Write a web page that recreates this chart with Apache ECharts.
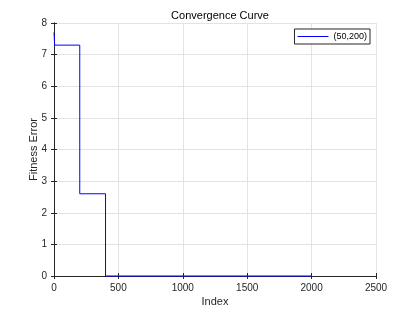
<!DOCTYPE html>
<html><head><meta charset="utf-8">
<script src="https://cdn.jsdelivr.net/npm/echarts@6/dist/echarts.min.js"></script>
<style>html,body{margin:0;padding:0;background:#fff}#c{width:416px;height:312px}</style>
</head><body><div id="c"></div>
<script>
const seriesName = '(50,200)';
const xIndex = [0, 5, 200, 200, 400, 400, 2000];
const fitnessError = [7.7, 7.3, 7.3, 2.6, 2.6, 0, 0];
const xTicks = [0, 500, 1000, 1500, 2000, 2500];
const yTicks = [0, 1, 2, 3, 4, 5, 6, 7, 8];

const font = 'Liberation Sans, Arial, sans-serif';
const chart = echarts.init(document.getElementById('c'), null, {renderer: 'canvas'});
const axisLine = {show: true, lineStyle: {color: '#262626', width: 1}};
chart.setOption({
  animation: false,
  title: {text: 'Convergence Curve', left: 215, textAlign: 'center', top: 5,
    textStyle: {fontFamily: font, fontSize: 11, fontWeight: 'normal', color: '#000'}},
  legend: {right: 46, top: 29, itemWidth: 31, itemHeight: 1, itemGap: 2,
    borderColor: '#262626', borderWidth: 1, padding: [3, 3, 3, 3], borderRadius: 0,
    backgroundColor: '#fff',
    textStyle: {fontFamily: font, fontSize: 9, color: '#000'},
    icon: 'rect', data: [seriesName]},
  grid: {left: 54, right: 40, top: 23, bottom: 35},
  xAxis: [{type: 'value', min: xTicks[0], max: xTicks[xTicks.length-1], interval: 500,
    name: 'Index', nameLocation: 'middle', nameGap: 20, nameMoveOverlap: false,
    nameTextStyle: {fontFamily: font, fontSize: 11, color: '#262626'},
    axisLine: axisLine, axisTick: {show: true, inside: true, length: 3, lineStyle: {color: '#262626'}},
    axisLabel: {fontFamily: font, fontSize: 10, color: '#262626', margin: 7, formatter: v => String(v)},
    splitLine: {show: true, lineStyle: {color: '#e3e3e3'}}},
   {type: 'value', position: 'top', min: xTicks[0], max: xTicks[xTicks.length-1], interval: 500,
    axisLine: axisLine, axisTick: {show: true, inside: true, length: 3, lineStyle: {color: '#262626'}},
    axisLabel: {show: false}, splitLine: {show: false}}],
  yAxis: [{type: 'value', min: yTicks[0], max: yTicks[yTicks.length-1], interval: 1,
    name: 'Fitness Error', nameLocation: 'middle', nameGap: 15, nameMoveOverlap: false,
    nameTextStyle: {fontFamily: font, fontSize: 11, color: '#262626'},
    axisLine: axisLine, axisTick: {show: true, inside: true, length: 3, lineStyle: {color: '#262626'}},
    axisLabel: {fontFamily: font, fontSize: 10, color: '#262626', margin: 7},
    splitLine: {show: true, lineStyle: {color: '#e3e3e3'}}},
   {type: 'value', position: 'right', min: yTicks[0], max: yTicks[yTicks.length-1], interval: 1,
    axisLine: axisLine, axisTick: {show: true, inside: true, length: 3, lineStyle: {color: '#262626'}},
    axisLabel: {show: false}, splitLine: {show: false}}],
  series: [{name: seriesName, type: 'line', showSymbol: false, symbol: 'none', clip: false, z: 10,
    data: xIndex.map((x, i) => [x, fitnessError[i]]),
    lineStyle: {color: '#0000ff', width: 1}, itemStyle: {color: '#0000ff'}}]
});
</script></body></html>
